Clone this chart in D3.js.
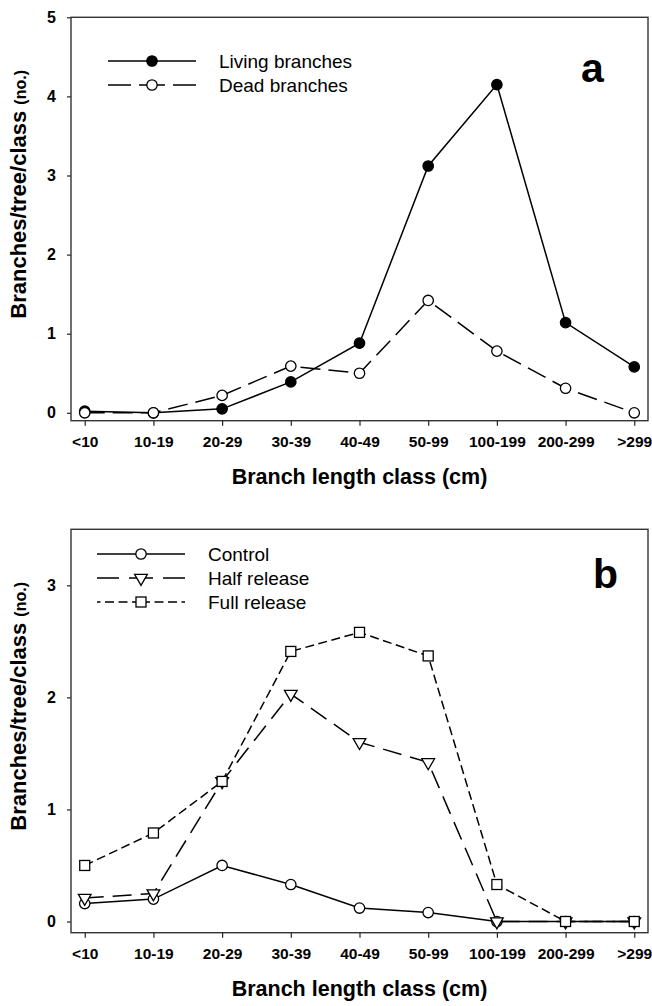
<!DOCTYPE html>
<html>
<head>
<meta charset="utf-8">
<script src="https://cdn.jsdelivr.net/npm/d3@7"></script>
<style>
  body { margin: 0; background: #fff; }
  svg text { font-family: "Liberation Sans", Arial, sans-serif; fill: #000; }
</style>
</head>
<body>
<svg id="chart" width="652" height="1006"></svg>
<script>
// branch length classes (x axis)
let classes = ['<10', '10-19', '20-29', '30-39', '40-49', '50-99', '100-199', '200-299', '>299'];

// panel a
let livingBranches = [0.02, 0.00, 0.05, 0.39, 0.88, 3.12, 4.15, 1.14, 0.58];
let deadBranches = [0.00, 0.00, 0.22, 0.59, 0.50, 1.42, 0.78, 0.31, 0.00];
let ticksA = [0, 1, 2, 3, 4, 5];

// panel b
let control = [0.16, 0.20, 0.50, 0.33, 0.12, 0.08, 0.00, 0.00, 0.00];
let halfRelease = [0.21, 0.25, 1.25, 2.03, 1.60, 1.42, 0.00, 0.00, 0.00];
let fullRelease = [0.50, 0.79, 1.25, 2.41, 2.58, 2.37, 0.33, 0.00, 0.00];
let ticksB = [0, 1, 2, 3];

let Frame = { Left: 71, Right: 648 };

let panels = [
    {
        letter: 'a', top: 17.3, bottom: 420.7, yDomain: [-0.1, 5], ticks: ticksA,
        legendX: 108, legendY: 61, letterX: 581, letterY: 82,
        series: [
            { name: 'Living branches', values: livingBranches, marker: 'circle', fill: '#000', dash: null, legDash: null },
            { name: 'Dead branches', values: deadBranches, marker: 'circle', fill: '#fff', dash: '20,8', legDash: '13,8,30' }
        ]
    },
    {
        letter: 'b', top: 529.3, bottom: 932.7, yDomain: [-0.1, 3.5], ticks: ticksB,
        legendX: 97, legendY: 554, letterX: 593, letterY: 588,
        series: [
            { name: 'Control', values: control, marker: 'circle', fill: '#fff', dash: null, legDash: null },
            { name: 'Half release', values: halfRelease, marker: 'triangle', fill: '#fff', dash: '19,9', legDash: '12,10,30' },
            { name: 'Full release', values: fullRelease, marker: 'square', fill: '#fff', dash: '9,4.5', legDash: '9,4.5' }
        ]
    }
];

let svg = d3.select('#chart');

function drawMarker(g, type, fill) {
    if (type === 'circle') {
        g.append('circle').attr('r', 5.2);
    } else if (type === 'square') {
        g.append('rect').attr('x', -5).attr('y', -5).attr('width', 10).attr('height', 10);
    } else {
        g.append('path').attr('d', d3.symbol(d3.symbolTriangle, 70)()).attr('transform', 'rotate(180)');
    }
    g.selectAll('*')
        .attr('fill', fill)
        .attr('stroke', '#000')
        .attr('stroke-width', 1.3);
}

panels.forEach(p => {
    let x = d3.scaleLinear().domain([-0.2, classes.length - 0.8]).range([Frame.Left, Frame.Right]);
    let y = d3.scaleLinear().domain(p.yDomain).range([p.bottom, p.top]);

    let g = svg.append('g');

    // x axis
    let xAxis = g.append('g')
        .attr('transform', `translate(0,${p.bottom})`)
        .call(d3.axisBottom(x)
            .tickValues(d3.range(classes.length))
            .tickFormat(i => classes[i])
            .tickSize(5)
            .tickSizeOuter(0)
            .tickPadding(10));
    xAxis.select('.domain').remove();
    xAxis.selectAll('text').attr('font-size', 15.5).attr('font-weight', 'bold');

    // y axis
    let yAxis = g.append('g')
        .attr('transform', `translate(${Frame.Left},0)`)
        .call(d3.axisLeft(y)
            .tickValues(p.ticks)
            .tickFormat(d3.format('d'))
            .tickSize(4)
            .tickSizeOuter(0)
            .tickPadding(11));
    yAxis.select('.domain').remove();
    yAxis.selectAll('text').attr('font-size', 16).attr('font-weight', 'bold');
    g.selectAll('.tick line').attr('stroke', '#222').attr('stroke-width', 1.2);

    // frame
    g.append('rect')
        .attr('x', Frame.Left)
        .attr('y', p.top)
        .attr('width', Frame.Right - Frame.Left)
        .attr('height', p.bottom - p.top)
        .attr('fill', 'none')
        .attr('stroke', '#333')
        .attr('stroke-width', 1.4);

    // axis titles
    g.append('text')
        .attr('x', (Frame.Left + Frame.Right) / 2)
        .attr('y', p.bottom + 63)
        .attr('text-anchor', 'middle')
        .attr('font-size', 21.5)
        .attr('font-weight', 'bold')
        .text('Branch length class (cm)');

    let yTitle = g.append('text')
        .attr('transform', `translate(26,${p.bottom - 102}) rotate(-90)`)
        .attr('text-anchor', 'start')
        .attr('font-weight', 'bold')
        .attr('font-size', 22);
    yTitle.append('tspan').text('Branches/tree/class ');
    yTitle.append('tspan').attr('font-size', 16).text('(no.)');

    // series
    let line = d3.line()
        .x((d, i) => x(i))
        .y(d => y(d));

    p.series.forEach(s => {
        g.append('path')
            .datum(s.values)
            .attr('d', line)
            .attr('fill', 'none')
            .attr('stroke', '#000')
            .attr('stroke-width', 1.5)
            .attr('stroke-dasharray', s.dash);
    });
    p.series.forEach(s => {
        g.selectAll(null)
            .data(s.values)
            .join('g')
            .attr('transform', (d, i) => `translate(${x(i)},${y(d)})`)
            .each((d, i, n) => drawMarker(d3.select(n[i]), s.marker, s.fill));
    });

    // legend
    p.series.forEach((s, k) => {
        let ly = p.legendY + k * 24;
        let mid = p.legendX + 44;
        [p.legendX, p.legendX + 88].forEach(end => {
            g.append('line')
                .attr('x1', mid).attr('x2', end)
                .attr('y1', ly).attr('y2', ly)
                .attr('stroke', '#000')
                .attr('stroke-width', 1.5)
                .attr('stroke-dasharray', s.legDash);
        });
        drawMarker(g.append('g').attr('transform', `translate(${mid},${ly})`), s.marker, s.fill);
        g.append('text')
            .attr('x', p.legendX + 111)
            .attr('y', ly + 6.5)
            .attr('font-size', 19)
            .text(s.name);
    });

    g.append('text')
        .attr('x', p.letterX)
        .attr('y', p.letterY)
        .attr('font-size', 41)
        .attr('font-weight', 'bold')
        .text(p.letter);
});
</script>
</body>
</html>
